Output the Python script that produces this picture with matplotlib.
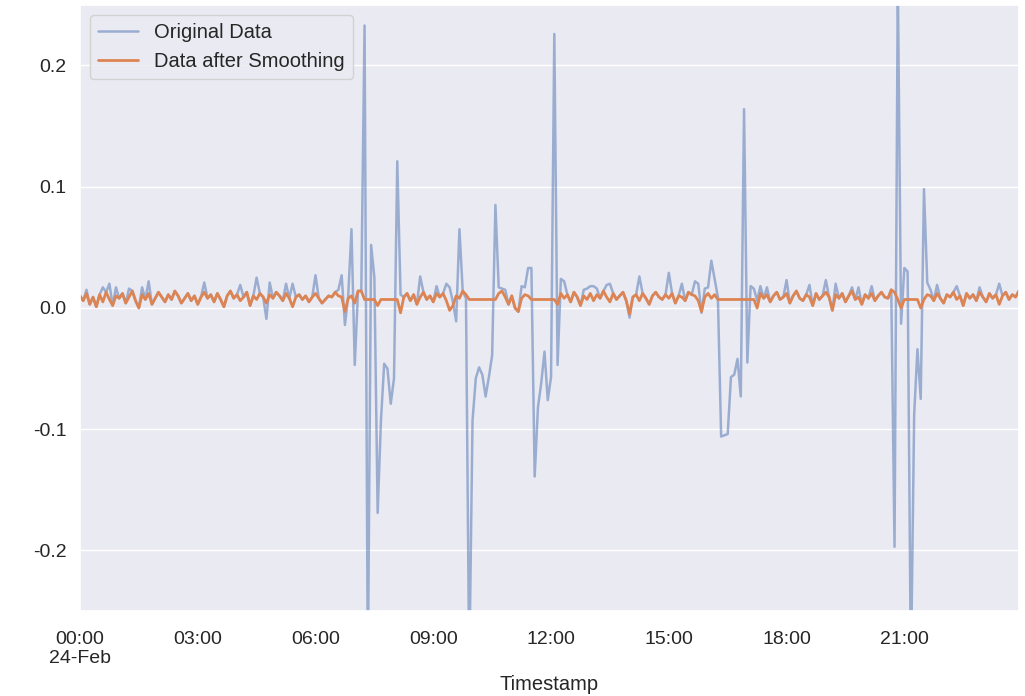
import numpy as np
import pandas as pd
import matplotlib
matplotlib.use("Agg")
import matplotlib.pyplot as plt
import matplotlib.dates as mdates
from matplotlib.ticker import FuncFormatter
import seaborn as sns

# values in thousandths, one row = one hour of 5-minute samples
original_milli = [
    10, 6, 15, 3, 9, 1, 11, 17, 13, 20, 2, 17,
    8, 12, 4, 16, 14, 6, 0, 17, 7, 22, 3, 8,
    13, 9, 5, 11, 7, 14, 10, 4, 8, 12, 6, 10,
    3, 9, 21, 8, 11, 5, 12, 7, 1, 10, 14, 8,
    11, 19, 9, 13, 2, 10, 25, 12, 9, -9, 21, 8,
    13, 10, 6, 20, 8, 20, 9, 11, 7, 10, 5, 9,
    27, 8, 4, 7, 10, 9, 13, 15, 27, -14, 10, 65,
    -47, 14, 14, 233, -300, 52, 25, -169, -93, -46, -50, -79,
    -58, 121, 11, 9, 12, 6, 11, 3, 26, 13, 7, 10,
    5, 18, 9, 12, 20, 17, 5, -11, 65, 14, 8, -300,
    -93, -58, -49, -55, -73, -57, -39, 85, 17, 16, 15, 3,
    10, 0, -3, 18, 17, 33, 33, -139, -82, -62, -36, -76,
    -57, 226, -47, 24, 22, 11, 5, 13, 9, 2, 15, 16,
    18, 18, 16, 8, 14, 19, 20, 12, 7, 10, 13, 6,
    -8, 9, 11, 26, 12, 8, 3, 10, 13, 9, 7, 11,
    29, 12, 4, 10, 20, 6, 13, 11, 22, 20, -4, 16,
    17, 39, 24, 9, -106, -105, -104, -57, -55, -42, -73, 164,
    -45, 18, 16, 6, 18, 8, 17, 5, 10, 13, 7, 9,
    23, 4, 10, 14, 8, 6, 11, 19, 2, 12, 7, 10,
    23, 9, -2, 20, 8, 12, 5, 10, 17, 7, 17, 3,
    11, 8, 18, 6, 10, 13, 9, 8, 15, -197, 270, -13,
    33, 30, -300, -88, -34, -75, 98, 21, 15, 6, 19, 8,
    4, 11, 9, 13, 18, 10, 2, 12, 8, 11, 6, 17,
    9, 5, 12, 8, 11, 20, 10, 13, 7, 11, 9, 14,
]

smoothed_milli = [
    10, 6, 12, 3, 9, 1, 11, 5, 13, 7, 2, 10,
    8, 12, 4, 9, 14, 6, 0, 11, 7, 12, 3, 8,
    13, 9, 5, 11, 7, 14, 10, 4, 8, 12, 6, 10,
    3, 9, 13, 8, 11, 5, 12, 7, 1, 10, 14, 8,
    11, 6, 9, 13, 2, 10, 7, 12, 9, 4, 11, 8,
    13, 10, 6, 12, 8, 1, 9, 11, 7, 10, 5, 9,
    12, 8, 4, 7, 10, 9, 13, 10, 9, -3, 8, 10,
    4, 14, 14, 7, 7, 7, 7, 2, 7, 7, 7, 7,
    7, 7, -4, 9, 12, 6, 11, 3, 9, 13, 7, 10,
    5, 12, 9, 12, 6, -2, 2, 10, 8, 14, 11, 7,
    7, 7, 7, 7, 7, 7, 7, 7, 12, 14, 9, 3,
    10, 0, -3, 8, 11, 10, 7, 7, 7, 7, 7, 7,
    7, 7, 3, 12, 8, 11, 5, 13, 9, 2, 10, 7,
    12, 6, 11, 8, 14, 9, 5, 12, 7, 10, 13, 6,
    -5, 9, 11, 6, 12, 8, 3, 10, 13, 9, 7, 11,
    8, 12, 4, 10, 9, 6, 13, 11, 10, 6, -3, 9,
    12, 8, 11, 7, 7, 7, 7, 7, 7, 7, 7, 7,
    7, 7, 7, 0, 12, 8, 11, 5, 10, 13, 7, 9,
    12, 4, 10, 14, 8, 6, 11, 9, 2, 12, 7, 10,
    13, 9, -2, 11, 8, 12, 5, 10, 14, 7, 9, 3,
    11, 8, 12, 6, 10, 13, 9, 8, 15, 13, 7, 0,
    7, 7, 7, 7, 7, 0, 7, 11, 10, 6, 12, 8,
    4, 11, 9, 13, 7, 10, 2, 12, 8, 11, 6, 13,
    9, 5, 12, 8, 11, 3, 10, 13, 7, 11, 9, 14,
]

timestamps = pd.date_range("2021-02-24 00:00", periods=len(original_milli), freq="5min")
original = np.array(original_milli) / 1000
smoothed = np.array(smoothed_milli) / 1000

sns.set_theme(style="darkgrid")
plt.rcParams['font.family'] = ['Liberation Sans', 'DejaVu Sans']
plt.rcParams['axes.unicode_minus'] = False

fig = plt.figure(figsize=(10.25, 6.96), dpi=100)
ax = fig.add_axes([0.078, 0.122, 0.916, 0.871])

ax.plot(timestamps, original, color='C0', alpha=0.5, lw=1.8, label='Original Data')
ax.plot(timestamps, smoothed, color='C1', lw=2.0, label='Data after Smoothing')

ax.set_xlim(timestamps[0], timestamps[-1])
ax.set_ylim(-0.25, 0.25)
ax.set_yticks([-0.2, -0.1, 0.0, 0.1, 0.2])
ax.grid(False, axis='x')

ax.xaxis.set_major_locator(mdates.HourLocator(byhour=range(0, 24, 3)))


def time_label(x, pos):
    d = mdates.num2date(x)
    s = d.strftime('%H:%M')
    if d.hour == 0:
        s += '\n' + d.strftime('%d-%b')
    return s


ax.xaxis.set_major_formatter(FuncFormatter(time_label))
ax.tick_params(axis='both', labelsize=14)
ax.tick_params(axis='x', pad=8)
ax.set_xlabel('Timestamp', fontsize=14.5, labelpad=6)
ax.legend(loc='upper left', fontsize=14.5)

fig.savefig('out.png', dpi=100)
